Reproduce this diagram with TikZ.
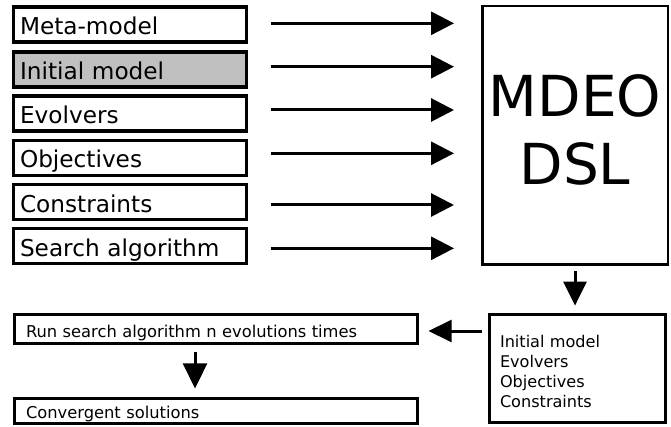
\documentclass[tikz,border=0pt]{standalone}
\usepackage{fontspec}
\setmainfont{DejaVu Sans}
\usetikzlibrary{arrows.meta}
\definecolor{boxgray}{RGB}{192,192,192}
\tikzset{
  inbox/.style={draw, line width=3.3pt, minimum height=35pt, text width=220pt,
    inner xsep=6.25pt, inner ysep=0pt, align=left,
    font=\fontsize{23.2}{27}\selectfont, text height=20.5pt, text depth=0pt},
  lowbox/.style={draw, line width=3.2pt, text width=380pt, inner xsep=11.35pt,
    inner ysep=0pt, align=left, font=\fontsize{16.3}{19.7}\selectfont, text depth=0pt},
  arr/.style={line width=3pt, -{Triangle[length=23pt,width=23pt]}},
}
\begin{document}
\begin{tikzpicture}[x=1pt,y=-1pt]
\useasboundingbox (0,0) rectangle (671,427);
% left input boxes
\node[inbox] (b1) at (130,24.5) {Meta-model};
\node[inbox, fill=boxgray] (b2) at (130,69.5) {Initial model};
\node[inbox] (b3) at (130,113.5) {Evolvers};
\node[inbox] (b4) at (130,157.7) {Objectives};
\node[inbox] (b5) at (130,202) {Constraints};
\node[inbox] (b6) at (130,246) {Search algorithm};
% DSL box
\node[draw, line width=2.5pt, minimum width=185.5pt, minimum height=258.5pt,
  text width=185.5pt, inner xsep=0pt, inner ysep=0pt, align=center,
  font=\fontsize{56.5}{68}\selectfont, text height=42pt, text depth=79pt]
  (dsl) at (575,135.5) {MDEO\\DSL};
% output box
\node[draw, line width=2.7pt, minimum height=108.3pt, text width=155pt,
  inner xsep=10.65pt, inner ysep=0pt, align=left,
  font=\fontsize{16.1}{19.7}\selectfont, text height=18pt, text depth=59.1pt]
  (r) at (577.5,368.5) {Initial model\\Evolvers\\Objectives\\Constraints};
% bottom left boxes
\node[lowbox, minimum height=28.7pt, text height=16pt] (run) at (216,329)
  {Run search algorithm n evolutions times};
\node[lowbox, minimum height=24.7pt, text height=14.6pt] (conv) at (216,411)
  {Convergent solutions};
% arrows into DSL
\draw[arr, shorten <=22.75pt, shorten >=27pt] ([yshift=1.2pt]b1.east) -- ([yshift=1.2pt]b1.east -| dsl.west);
\draw[arr, shorten <=22.75pt, shorten >=27pt] ([yshift=2.8pt]b2.east) -- ([yshift=2.8pt]b2.east -| dsl.west);
\draw[arr, shorten <=22.75pt, shorten >=27pt] ([yshift=3.5pt]b3.east) -- ([yshift=3.5pt]b3.east -| dsl.west);
\draw[arr, shorten <=22.75pt, shorten >=27pt] ([yshift=4.4pt]b4.east) -- ([yshift=4.4pt]b4.east -| dsl.west);
\draw[arr, shorten <=22.75pt, shorten >=27pt] ([yshift=-3pt]b5.east) -- ([yshift=-3pt]b5.east -| dsl.west);
\draw[arr, shorten <=22.75pt, shorten >=27pt] ([yshift=-2.3pt]b6.east) -- ([yshift=-2.3pt]b6.east -| dsl.west);
% DSL -> output
\draw[line width=3pt, -{Triangle[length=24pt,width=23pt]}, shorten <=5.25pt, shorten >=7.4pt]
  (dsl.south) -- (dsl.south |- r.north);
% output -> run
\draw[line width=3pt, -{Triangle[length=23pt,width=22pt]}, shorten <=6.35pt, shorten >=9.65pt]
  ([yshift=-2pt]r.west |- run.east) -- ([yshift=-2pt]run.east);
% run -> convergent
\draw[line width=3pt, -{Triangle[length=25pt,width=24pt]}, shorten <=6.65pt, shorten >=8.65pt]
  ([xshift=-21pt]run.south) -- ([xshift=-21pt]run.south |- conv.north);
\end{tikzpicture}
\end{document}
